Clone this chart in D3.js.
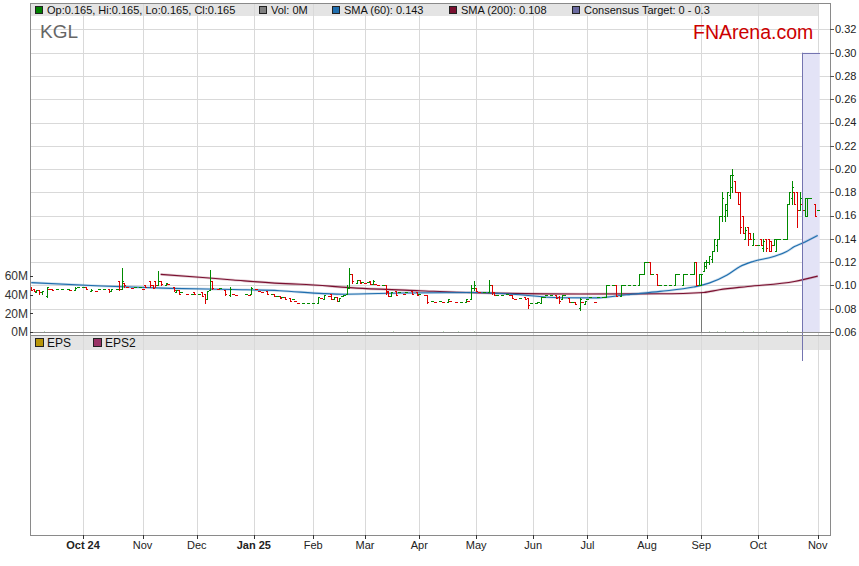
<!DOCTYPE html>
<html><head><meta charset="utf-8">
<script src="https://cdn.jsdelivr.net/npm/d3@7"></script>
<style>body{margin:0;background:#fff;}text{font-family:"Liberation Sans",Arial,sans-serif;}</style>
</head><body><svg id="chart" width="859" height="566"></svg>
<script>
const n = null;
const startDate = "2024-09-03", endDate = "2025-11-03";
// OHLC per weekday (null = no trade)
const opens = [
.098,.097,.094,.096,.094,n,.091,.097,.097,n,.097,n,.097,n,.097,.096,n,.096,.099,n,
.099,.099,n,.095,n,.095,.097,n,.097,n,.097,.095,n,.097,.104,.097,.102,.099,n,.098,.099,n,.099,
.097,.100,n,.104,.100,.104,.100,.104,n,.100,.101,n,.099,.094,.096,.094,n,.093,n,.093,.094,
n,.093,.094,.093,.088,.096,.104,n,.097,.098,n,.096,n,.092,.093,.092,n,n,n,.093,.092,.093,
n,.097,.095,.094,n,.095,n,.093,.093,.091,.091,.090,.090,n,.089,.088,.087,.085,n,.085,n,.085,n,
.085,n,.085,.089,.088,n,.091,.093,.088,.090,.087,.091,.092,.093,.098,.110,n,.102,.105,.103,
.102,.103,.104,.101,.101,.100,n,.100,.100,.095,.091,n,.095,.094,n,.093,.094,n,.095,n,.094,
.093,n,.092,.092,n,.087,.086,n,.087,.086,n,.086,.087,n,.086,n,.086,n,.086,.087,.088,.098,
.098,.094,n,.094,n,.094,.100,.094,.092,n,.092,n,.093,.092,.092,.088,n,.089,n,.090,.089,.085,
n,.085,.086,.085,.090,.092,n,.092,n,.092,.090,.088,.092,n,.089,.086,.086,n,.081,.086,.084,
.088,.090,n,.086,.090,n,.090,.090,.100,n,.100,.100,n,.091,.100,n,.100,n,.100,n,.100,.110,.110,
.120,.120,.110,n,.110,.100,n,.100,n,.100,n,.100,.110,n,.100,.110,n,.110,.110,.120,.100,
.100,.112,.117,.120,.123,.130,.135,.140,.160,.160,.165,.178,.185,.190,.180,.180,.160,.140,.150,.145,.135,.135,
.135,.140,.132,.140,.140,.138,.135,.130,.140,n,.140,.140,.170,.175,.180,.180,.165,.170,.165,.160,.175,n,.170,.165];
const highs = [
.099,.097,.096,.096,.095,n,.099,.097,.097,n,.097,n,.097,n,.097,.096,n,.099,.099,n,
.099,.099,n,.097,n,.095,.097,n,.097,n,.097,.097,n,.097,.104,.115,.102,.099,n,.098,.099,n,.099,
.097,.100,n,.104,.100,.104,.112,.104,n,.102,.101,n,.099,.096,.096,.094,n,.093,n,.093,.094,
n,.093,.094,.093,.095,.113,.104,n,.097,.098,n,.096,n,.099,.093,.092,n,n,n,.093,.092,.099,
n,.097,.095,.094,n,.095,n,.093,.093,.091,.091,.090,.090,n,.089,.088,.087,.085,n,.085,n,.085,n,
.085,n,.090,.089,.092,n,.091,.093,.090,.090,.089,.091,.092,.100,.115,.110,n,.105,.105,.103,
.102,.103,.104,.105,.101,.100,n,.100,.100,.095,.094,n,.095,.094,n,.093,.094,n,.095,n,.094,
.093,n,.092,.092,n,.087,.086,n,.087,.086,n,.088,.087,n,.086,n,.086,n,.088,.087,.100,.104,
.098,.094,n,.094,n,.105,.100,.094,.092,n,.092,n,.093,.092,.092,.088,n,.089,n,.090,.089,.085,
n,.085,.086,.090,.090,.092,n,.092,n,.092,.091,.092,.092,n,.089,.086,.086,n,.089,.086,.087,
.088,.090,n,.086,.090,n,.090,.100,.100,n,.100,.100,n,.100,.100,n,.100,n,.100,n,.110,.110,.120,
.120,.120,.110,n,.110,.100,n,.100,n,.100,n,.110,.110,n,.110,.110,n,.110,.120,.120,.110,
.110,.120,.122,.125,.130,.140,.140,.160,.180,.170,.180,.195,.200,.190,.180,.180,.160,.150,.150,.145,.145,.135,
.135,.140,.140,.140,.140,.138,.140,.140,.140,n,.140,.170,.180,.190,.180,.180,.180,.170,.175,.175,.175,n,.170,.165];
const lows = [
.096,.095,.094,.093,.093,n,.090,.097,.096,n,.097,n,.097,n,.097,.096,n,.096,.099,n,
.099,.097,n,.095,n,.095,.097,n,.097,n,.094,.095,n,.097,.096,.097,.099,.099,n,.098,.099,n,.099,
.097,.099,n,.099,.098,.099,.100,.100,n,.100,.101,n,.095,.094,.093,.094,n,.093,n,.093,.093,
n,.093,.091,.085,.088,.096,.097,n,.097,.098,n,.092,n,.091,.093,.092,n,n,n,.093,.092,.093,
n,.097,.095,.094,n,.093,n,.093,.091,.091,.089,.090,.088,n,.087,.088,.087,.085,n,.085,n,.085,n,
.085,n,.085,.089,.088,n,.091,.088,.088,.087,.087,.091,.092,.093,.098,.102,n,.102,.102,.103,
.102,.103,.101,.101,.101,.100,n,.100,.093,.091,.091,n,.092,.094,n,.093,.094,n,.093,n,.092,
.093,n,.092,.085,n,.087,.086,n,.087,.086,n,.086,.087,n,.086,n,.086,n,.086,.087,.088,.096,
.095,.094,n,.094,n,.094,.093,.092,.092,n,.092,n,.093,.092,.089,.088,n,.089,n,.088,.081,.085,
n,.085,.086,.085,.090,.092,n,.092,n,.089,.085,.088,.092,n,.086,.086,.084,n,.079,.086,.084,
.088,.090,n,.086,.090,n,.090,.090,.100,n,.100,.091,n,.091,.100,n,.100,n,.100,n,.100,.110,.110,
.120,.110,.110,n,.100,.100,n,.100,n,.100,n,.100,.110,n,.100,.110,n,.110,.110,.100,.100,
.100,.112,.115,.118,.120,.130,.130,.140,.155,.155,.160,.175,.180,.180,.170,.145,.145,.140,.135,.140,.135,.135,
.135,.135,.130,.130,.130,.130,.135,.130,.140,n,.140,.140,.170,.170,.170,.150,.165,.165,.160,.160,.175,n,.160,.165];
const closes = [
.096,.095,.096,.094,.095,n,.099,.097,.096,n,.097,n,.097,n,.097,.096,n,.098,.099,n,
.099,.097,n,.096,n,.095,.097,n,.097,n,.095,.097,n,.097,.097,.104,.100,.099,n,.098,.099,n,.099,
.097,.099,n,.100,.098,.100,.104,.101,n,.102,.101,n,.096,.096,.093,.094,n,.093,n,.093,.093,
n,.093,.091,.088,.095,.104,.098,n,.097,.098,n,.093,n,.097,.093,.092,n,n,n,.093,.092,.098,
n,.097,.095,.094,n,.093,n,.093,.091,.091,.089,.090,.088,n,.087,.088,.087,.085,n,.085,n,.085,n,
.085,n,.090,.089,.092,n,.091,.088,.090,.087,.089,.091,.092,.098,.110,.104,n,.105,.102,.103,
.102,.103,.101,.104,.101,.100,n,.100,.094,.091,.094,n,.092,.094,n,.093,.094,n,.093,n,.092,
.093,n,.092,.086,n,.087,.086,n,.087,.086,n,.088,.087,n,.086,n,.086,n,.088,.087,.098,.100,
.095,.094,n,.094,n,.100,.094,.092,.092,n,.092,n,.093,.092,.089,.088,n,.089,n,.088,.083,.085,
n,.085,.086,.090,.090,.092,n,.092,n,.089,.087,.092,.092,n,.086,.086,.084,n,.088,.086,.087,
.088,.090,n,.086,.090,n,.090,.100,.100,n,.100,.091,n,.100,.100,n,.100,n,.100,n,.110,.110,.120,
.120,.110,.110,n,.100,.100,n,.100,n,.100,n,.110,.110,n,.110,.110,n,.110,.120,.100,.110,
.110,.120,.120,.125,.130,.140,.140,.160,.175,.170,.180,.195,.195,.180,.170,.150,.145,.148,.140,.140,.140,.135,
.135,.135,.138,.132,.130,.135,.140,.140,.140,n,.140,.170,.180,.185,.170,.165,.175,.165,.175,.175,.175,n,.160,.165];

const sma60Dates = ["2024-09-03","2024-10-10","2024-11-18","2024-12-20","2025-01-15","2025-02-07","2025-02-19","2025-03-21","2025-04-30","2025-05-21","2025-06-16","2025-07-07","2025-07-22","2025-08-08","2025-08-27","2025-09-04","2025-09-15","2025-09-22","2025-09-29","2025-10-09","2025-10-16","2025-10-21","2025-10-24","2025-11-03"];
const sma60Values = [0.1024,0.0995,0.0975,0.0965,0.0955,0.0930,0.0925,0.0935,0.0940,0.0925,0.0895,0.0893,0.0920,0.0949,0.0986,0.1020,0.1090,0.1163,0.1206,0.1249,0.1291,0.1334,0.1363,0.1430];
const sma200Dates = ["2024-11-12","2024-12-03","2024-12-20","2025-01-15","2025-01-27","2025-02-28","2025-04-01","2025-04-30","2025-06-26","2025-08-08","2025-09-02","2025-09-10","2025-09-25","2025-10-21","2025-11-03"];
const sma200Values = [0.1095,0.1070,0.1047,0.1018,0.1010,0.0975,0.0955,0.0938,0.0927,0.0929,0.0940,0.0963,0.0991,0.1034,0.1080];

const volDates = ["2024-09-10","2024-10-21","2025-02-20","2025-03-04","2025-03-18","2025-04-14","2025-04-22","2025-04-30","2025-09-01","2025-09-04","2025-09-09","2025-09-12","2025-09-23","2025-09-29","2025-10-06","2025-10-16"];
const volValues = [1.2,1.2,1.2,1.5,1.2,1.2,1.2,1.2,43,1.5,1.5,1.5,1.2,1.2,1.2,1.5];

const priceTicks = [0.06,0.08,0.10,0.12,0.14,0.16,0.18,0.20,0.22,0.24,0.26,0.28,0.30,0.32];
const volTicks = [0,20,40,60];
const legendLabels = ["Op:0.165, Hi:0.165, Lo:0.165, Cl:0.165","Vol: 0M","SMA (60): 0.143","SMA (200): 0.108","Consensus Target: 0 - 0.3"];
const legendColors = ["#008000","#808080","#1f6eae","#7a1030","#6a6aa0"];
const epsLabels = ["EPS","EPS2"];
const epsColors = ["#b8960a","#993366"];
const consensusDate = "2025-10-24", consensusLow = 0, consensusHigh = 0.3;
const ticker = "KGL";

// ---------- layout ----------
const L = 30, R = 830, TOP = 3, LEGB = 16, PBOT = 332, EPST = 335, EPSB = 350, BOT = 535;
const svg = d3.select("#chart");
const fmt = d3.utcFormat("%Y-%m-%d"), parse = d3.utcParse("%Y-%m-%d");
const days = d3.utcDay.range(parse(startDate), d3.utcDay.offset(parse(endDate), 1))
  .filter(d => d.getUTCDay() !== 0 && d.getUTCDay() !== 6);
const N = days.length;
const idxOf = new Map(days.map((d, i) => [fmt(d), i]));
const x = d3.scaleLinear().domain([-0.5, N + 3.75]).range([L, R]);
const y = d3.scaleLinear().domain([0.06, 0.32]).range([PBOT, 29.4]);
const yv = d3.scaleLinear().domain([0, 60]).range([PBOT, 276]);
const cr = v => Math.round(v) + 0.5;

svg.append("rect").attr("width", 859).attr("height", 566).attr("fill", "#fff");
svg.append("rect").attr("x", L).attr("y", TOP).attr("width", 818 - L).attr("height", LEGB - TOP).attr("fill", "#e4e4e4");
svg.append("rect").attr("x", L).attr("y", EPST).attr("width", R - L).attr("height", EPSB - EPST).attr("fill", "#e4e4e4");

const monthIdx = days.map((d, i) => i).filter(i => i > 0 && days[i].getUTCMonth() !== days[i - 1].getUTCMonth());
const grid = svg.append("g").attr("stroke", "#d9d9d9").attr("stroke-width", 1);
monthIdx.forEach(i => grid.append("line").attr("x1", cr(x(i))).attr("x2", cr(x(i))).attr("y1", TOP).attr("y2", BOT));
priceTicks.forEach(t => grid.append("line").attr("x1", L).attr("x2", R).attr("y1", cr(y(t))).attr("y2", cr(y(t))));

const ci = idxOf.get(consensusDate);
const cx = cr(x(ci));
svg.append("rect").attr("x", cx).attr("y", y(consensusHigh)).attr("width", x(N - 1) + 2 - cx)
  .attr("height", PBOT - y(consensusHigh)).attr("fill", "#e3e3f6");

const vg = svg.append("g");
volDates.forEach((d, k) => {
  const i = idxOf.get(d);
  const top = Math.round(yv(volValues[k]));
  vg.append("rect").attr("x", Math.round(x(i))).attr("y", top).attr("width", 1)
    .attr("height", Math.max(1, PBOT - top)).attr("fill", volValues[k] > 10 ? "#7a7a7a" : "#b8d8b8");
});

function smaLine(dates, vals, color) {
  const pts = dates.map((d, k) => [x(idxOf.get(d)), y(vals[k])]);
  const gen = d3.line().curve(d3.curveMonotoneX);
  svg.append("path").attr("d", gen(pts)).attr("fill", "none").attr("stroke", color).attr("stroke-opacity", 0.22).attr("stroke-width", 2.6);
  svg.append("path").attr("d", gen(pts)).attr("fill", "none").attr("stroke", color).attr("stroke-width", 1.1);
}
smaLine(sma200Dates, sma200Values, legendColors[3]);
smaLine(sma60Dates, sma60Values, legendColors[2]);

const bg = svg.append("g").attr("shape-rendering", "crispEdges");
let prev = null;
for (let i = 0; i < N; i++) {
  const c = closes[i];
  if (c === null || c === undefined) continue;
  const o = opens[i], h = highs[i], l = lows[i];
  const up = c > o ? true : c < o ? false : (prev === null || c >= prev);
  const col = up ? "#008a00" : "#dd0000";
  const px = Math.round(x(i));
  const yh = Math.round(y(h)), yl = Math.round(y(l));
  bg.append("rect").attr("x", px).attr("y", yh).attr("width", 1).attr("height", Math.max(1, yl - yh + 1)).attr("fill", col);
  bg.append("rect").attr("x", px - 1).attr("y", Math.round(y(o))).attr("width", 1).attr("height", 1).attr("fill", col);
  bg.append("rect").attr("x", px + 1).attr("y", Math.round(y(c))).attr("width", 1).attr("height", 1).attr("fill", col);
  prev = c;
}

svg.append("line").attr("x1", cx).attr("x2", Math.round(x(N - 1)) + 2).attr("y1", cr(y(consensusHigh))).attr("y2", cr(y(consensusHigh))).attr("stroke", "#7474b0");
svg.append("line").attr("x1", cx).attr("x2", cx).attr("y1", y(consensusHigh)).attr("y2", 361).attr("stroke", "#7474b0");

const bd = svg.append("g").attr("stroke", "#8a8a8a").attr("stroke-width", 1);
bd.append("line").attr("x1", L + 0.5).attr("x2", L + 0.5).attr("y1", TOP).attr("y2", BOT + 1);
bd.append("line").attr("x1", R + 0.5).attr("x2", R + 0.5).attr("y1", TOP).attr("y2", BOT + 1);
bd.append("line").attr("x1", L).attr("x2", R + 1).attr("y1", TOP + 0.5).attr("y2", TOP + 0.5);
bd.append("line").attr("x1", L).attr("x2", R + 1).attr("y1", BOT + 0.5).attr("y2", BOT + 0.5);
bd.append("line").attr("x1", L).attr("x2", R + 1).attr("y1", PBOT + 0.5).attr("y2", PBOT + 0.5);
bd.append("line").attr("x1", L).attr("x2", R + 1).attr("y1", EPST + 0.5).attr("y2", EPST + 0.5);

const ra = svg.append("g");
priceTicks.forEach(t => {
  ra.append("line").attr("x1", R).attr("x2", R + 4).attr("y1", cr(y(t))).attr("y2", cr(y(t))).attr("stroke", "#555");
  ra.append("text").attr("x", R + 5).attr("y", y(t)).attr("dy", "0.35em").attr("font-size", 11).attr("fill", "#222").text(d3.format(".2f")(t));
});
volTicks.forEach(t => {
  ra.append("line").attr("x1", L).attr("x2", L + 3).attr("y1", cr(yv(t))).attr("y2", cr(yv(t))).attr("stroke", "#333");
  ra.append("text").attr("x", L - 2).attr("y", yv(t)).attr("dy", "0.35em").attr("text-anchor", "end").attr("font-size", 12).attr("fill", "#333").text(t + "M");
});
const monthFmt = d3.utcFormat("%b"), yearFmt = d3.utcFormat("%b %y");
monthIdx.forEach(i => {
  const d = days[i];
  const isYear = d.getUTCMonth() === 0 || i === monthIdx[0];
  svg.append("line").attr("x1", cr(x(i))).attr("x2", cr(x(i))).attr("y1", BOT).attr("y2", BOT + 4).attr("stroke", "#333");
  svg.append("text").attr("x", x(i)).attr("y", 549).attr("text-anchor", "middle").attr("font-size", 11)
    .attr("font-weight", isYear ? "bold" : "normal").attr("fill", "#222").text(isYear ? yearFmt(d) : monthFmt(d));
});

const legX = [35, 259, 332, 449, 572];
legendLabels.forEach((t, k) => {
  svg.append("rect").attr("x", legX[k] + 0.5).attr("y", 6.5).attr("width", 7).attr("height", 7).attr("fill", legendColors[k]).attr("stroke", "#222");
  svg.append("text").attr("x", legX[k] + 12).attr("y", 13.5).attr("font-size", 11).attr("fill", "#111").text(t);
});
const epsX = [35, 93];
epsLabels.forEach((t, k) => {
  svg.append("rect").attr("x", epsX[k] + 0.5).attr("y", 338.5).attr("width", 8).attr("height", 8).attr("fill", epsColors[k]).attr("stroke", "#222");
  svg.append("text").attr("x", epsX[k] + 12).attr("y", 347).attr("font-size", 12).attr("fill", "#111").text(t);
});

svg.append("text").attr("x", 40).attr("y", 38).attr("font-size", 19).attr("fill", "#666").text(ticker);
svg.append("text").attr("x", 693).attr("y", 39).attr("font-size", 19.5).attr("fill", "#cc0000").text("FNArena.com");
</script></body></html>
